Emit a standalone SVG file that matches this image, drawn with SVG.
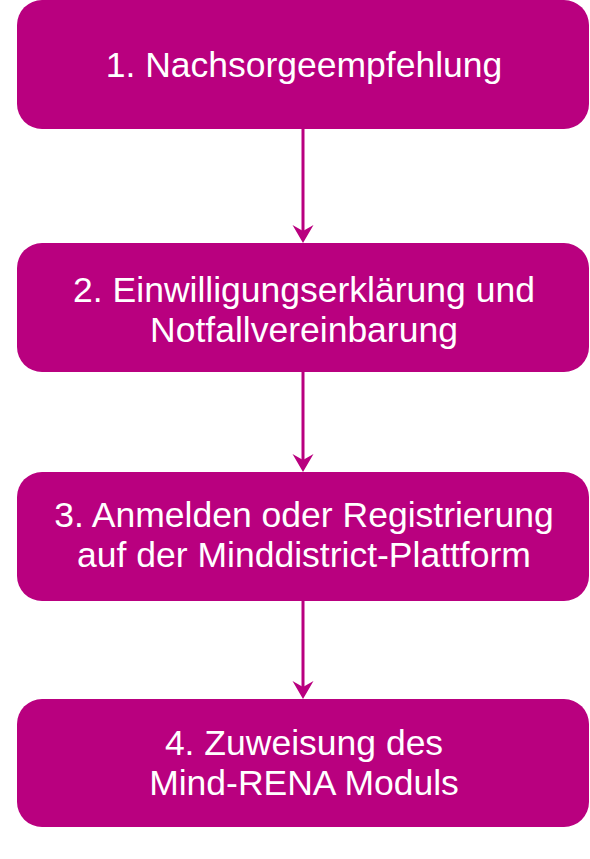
<svg xmlns="http://www.w3.org/2000/svg" width="590" height="859" viewBox="0 0 590 859">
<style>
.box{fill:#B9007F;}
.lbl{font-family:"Liberation Sans",Arial,sans-serif;font-size:35.5px;fill:#FFFFFF;text-anchor:middle;}
.conn{stroke:#B9007F;stroke-width:3;fill:none;marker-end:url(#arr);}
</style>
<defs>
<marker id="arr" markerUnits="userSpaceOnUse" markerWidth="20" markerHeight="24" viewBox="-7 -12 20 24" refX="0" refY="0" orient="auto">
<path d="M12,0 L-6,-10.5 L0,0 L-6,10.5 Z" fill="#B9007F"/>
</marker>
</defs>
<rect width="590" height="859" fill="#FFFFFF"/>
<g id="connectors">
<line class="conn" x1="303" y1="129" x2="303" y2="231"/>
<line class="conn" x1="303" y1="372" x2="303" y2="460"/>
<line class="conn" x1="303" y1="601" x2="303" y2="687"/>
</g>
<g id="node1">
<rect class="box" x="17" y="0" width="572" height="129" rx="25" ry="25"/>
<text class="lbl" x="304" y="77">1. Nachsorgeempfehlung</text>
</g>
<g id="node2">
<rect class="box" x="17" y="243" width="572" height="129" rx="25" ry="25"/>
<text class="lbl" x="304" y="302">2. Einwilligungserklärung und</text>
<text class="lbl" x="304" y="342">Notfallvereinbarung</text>
</g>
<g id="node3">
<rect class="box" x="17" y="472" width="572" height="129" rx="25" ry="25"/>
<text class="lbl" x="304" y="527">3. Anmelden oder Registrierung</text>
<text class="lbl" x="304" y="567">auf der Minddistrict-Plattform</text>
</g>
<g id="node4">
<rect class="box" x="17" y="699" width="572" height="128" rx="25" ry="25"/>
<text class="lbl" x="304" y="755">4. Zuweisung des</text>
<text class="lbl" x="304" y="795">Mind-RENA Moduls</text>
</g>
</svg>
